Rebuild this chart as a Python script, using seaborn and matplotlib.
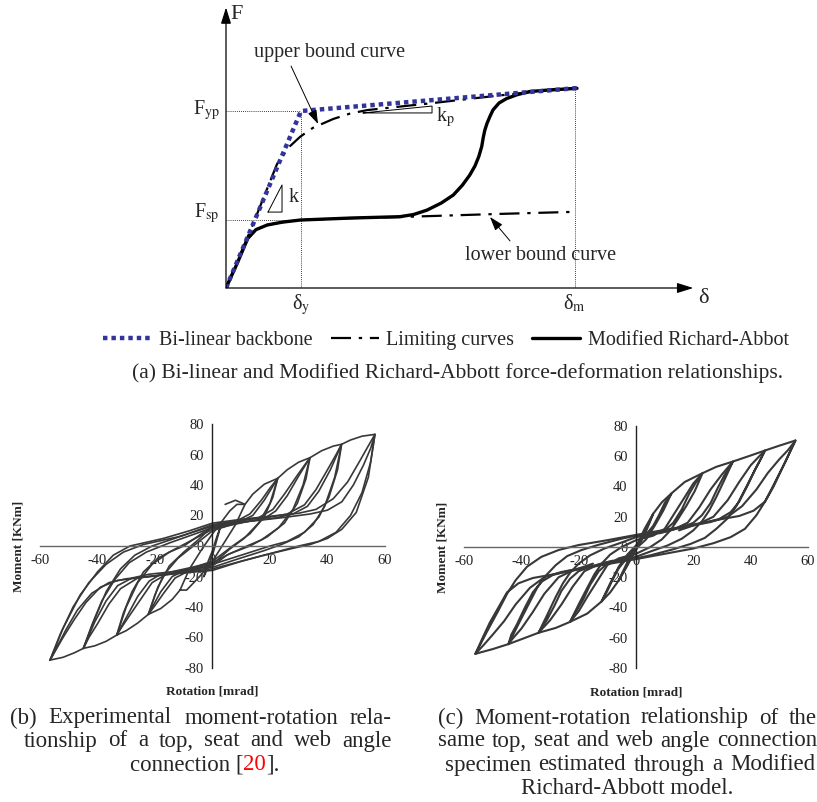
import numpy as np
import matplotlib
matplotlib.use("Agg")
import matplotlib.pyplot as plt
import seaborn as sns

# ---------------- data: panel (a) schematic ----------------
delta_y = 1.0
delta_m = 4.65
F_yp = 1.0
F_sp = 0.384
F_end = 1.13

backbone_d = [0.0, 1.0, 4.69]
backbone_F = [0.0, 1.0, 1.13]

upper_d = [0, 0.35, 0.68, 0.85, 0.99, 1.16, 1.43, 1.65, 1.88, 2.32, 2.76, 3.21, 3.65, 4.09, 4.69]
upper_F = [0, 0.35, 0.70, 0.80, 0.855, 0.905, 0.955, 0.985, 1.005, 1.025, 1.045, 1.067, 1.088, 1.108, 1.13]

lower_d = [0, 0.29, 0.40, 0.55, 0.75, 0.99, 1.65, 2.32, 3.0, 3.6, 4.62]
lower_F = [0, 0.28, 0.33, 0.356, 0.372, 0.384, 0.395, 0.401, 0.41, 0.418, 0.43]

modra_d = [0, 0.15, 0.29, 0.40, 0.55, 0.75, 0.99, 1.65, 2.32, 2.50, 2.68, 2.87, 3.03, 3.15, 3.25,
           3.32, 3.37, 3.41, 3.43, 3.45, 3.48, 3.52, 3.56, 3.64, 3.74, 3.88, 4.05, 4.35, 4.68]
modra_F = [0, 0.14, 0.28, 0.33, 0.356, 0.372, 0.384, 0.395, 0.403, 0.415, 0.44, 0.48, 0.525, 0.58, 0.638,
           0.69, 0.742, 0.80, 0.85, 0.89, 0.93, 0.97, 1.006, 1.045, 1.07, 1.092, 1.11, 1.12, 1.128]

tri_k_d = [0.56, 0.747, 0.747, 0.56]
tri_k_F = [0.429, 0.429, 0.582, 0.429]
tri_kp_d = [1.827, 2.747, 2.747, 1.827]
tri_kp_F = [0.989, 0.989, 1.028, 0.989]

legend_labels = ["Bi-linear backbone", "Limiting curves", "Modified Richard-Abbot"]

# ---------------- data: panel (b) experimental loops (rotation mrad, moment kNm) ----------------
b_loop_57 = [(-56.5, -74.8), (-52, -54), (-46, -32), (-40, -17), (-34.5, -6), (-28.7, 0), (-17, 5), (-8, 10),
             (0, 15), (10, 17.5), (20, 19.5), (30, 21.5), (36, 24), (42, 31), (47, 42), (51, 55), (54, 65),
             (56.5, 73.2), (54.2, 45), (50, 22), (45, 11), (40, 5), (34, 1), (28, -1.5), (18, -6), (8, -11),
             (0, -15), (-10, -17.5), (-20, -19.5), (-30, -21.5), (-36, -24), (-42, -31), (-47, -42), (-51, -55),
             (-54, -66), (-56.5, -74.8)]
b_loop_57b = [(-56.5, -74.8), (-53, -58), (-48.5, -40), (-43, -24), (-37, -12), (-31, -4), (-24, 1), (-12, 6),
              (0, 13), (12, 16), (24, 18.5), (34, 21), (40, 23.5), (45, 29), (49, 40), (52.5, 53), (55, 64),
              (56.5, 73.2), (55, 55), (52, 35), (48, 20), (43, 9), (37, 3), (30, 0), (20, -5), (10, -10),
              (0, -16), (-12, -18), (-24, -20.5), (-33, -22.5), (-39, -27), (-44, -37), (-48, -48), (-52, -60),
              (-56.5, -74.8)]
b_loop_45 = [(-44.9, -67.1), (-41, -48), (-37, -30), (-32, -15), (-27, -6), (-21, 0), (-10, 7), (0, 14),
             (10, 17), (20, 19), (26, 21), (32, 27), (36, 37), (40, 50), (43, 60), (44.9, 66.7), (42.5, 45),
             (39, 26), (35, 14), (30, 6), (24, 1), (18, -3), (8, -9), (0, -14), (-10, -17), (-20, -19.5),
             (-26, -21), (-32, -28), (-36, -38), (-40, -51), (-43, -60), (-44.9, -67.1)]
b_loop_45b = [(-44.9, -67.1), (-42, -52), (-38.5, -36), (-34, -22), (-29, -11), (-23, -4), (-15, 2), (0, 12),
              (12, 16), (22, 18.5), (28, 21), (33, 26), (37, 36), (41, 50), (44.9, 66.7), (43.5, 50),
              (40.5, 32), (37, 19), (32, 9), (26, 3), (20, 0), (10, -6), (0, -12), (-12, -16.5), (-22, -18.5),
              (-28, -21), (-33, -26), (-37, -36), (-41, -50), (-44.9, -67.1)]
b_loop_34 = [(-33.3, -58.4), (-30, -40), (-26, -24), (-21, -12), (-15, -4), (-10, 0), (0, 13), (10, 16.5),
             (16, 18.5), (21, 24), (25, 34), (29, 45), (32, 53), (33.9, 57.9), (31.5, 40), (28, 24), (23, 12),
             (17, 4), (12, 0), (5, -6), (0, -13), (-10, -16.5), (-16, -18.5), (-21, -24), (-25, -35),
             (-29, -46), (-31.5, -53), (-33.3, -58.4)]
b_loop_34b = [(-33.3, -58.4), (-31, -44), (-28, -30), (-24, -17), (-19, -8), (-13, -2), (0, 11), (12, 16),
              (18, 18), (22, 23), (26, 33), (30, 46), (33.9, 57.9), (32.5, 44), (29.5, 28), (25, 15), (19, 6),
              (13, 0), (6, -5), (0, -11), (-12, -16), (-18, -18.5), (-22, -23), (-26, -33), (-30, -47),
              (-33.3, -58.4)]
b_loop_23 = [(-22.3, -44.8), (-19, -27), (-15, -13), (-10, -4), (-5, 4), (0, 13), (8, 16), (13, 21), (17, 30),
             (20, 38), (22.7, 44.4), (20, 28), (16, 15), (11, 5), (6, -2), (0, -12), (-8, -16), (-13, -21),
             (-17, -31), (-20, -39), (-22.3, -44.8)]
b_loop_23b = [(-22.3, -44.8), (-20, -32), (-17, -19), (-12, -8), (-6, 1), (0, 10), (9, 15.5), (14, 20),
              (18, 30), (22.7, 44.4), (21, 32), (18, 19), (13, 8), (7, 0), (0, -10), (-9, -15.5), (-14, -20),
              (-18, -30), (-22.3, -44.8)]
b_loop_11 = [(-11.3, -28.9), (-8, -15), (-4, -3), (0, 8), (4, 18), (6, 23), (8.5, 27.3), (11.3, 27.3),
             (8, 14), (4, 2), (0, -10), (-4, -19), (-7, -25), (-9, -28.9), (-11.3, -28.9)]
b_loop_3 = [(-3, -20), (-1.5, -10), (0, -3), (1.5, 6), (3, 14), (1.5, 4), (0, -6), (-1.5, -14), (-3, -20)]
b_env_pos = [(4.4, 27.3), (8, 30), (11.3, 27.3), (14, 34), (18, 40.5), (22.7, 44.4), (26, 50), (30, 55),
             (33.9, 57.9), (38, 62.5), (42, 65.5), (44.9, 66.7), (48, 69.5), (52, 72), (56.5, 73.2)]
b_env_neg = [(-11.3, -28.9), (-14, -35), (-18, -41), (-22.3, -44.8), (-26, -50.5), (-30, -55.5),
             (-33.3, -58.4), (-37, -62.5), (-41, -65.5), (-44.9, -67.1), (-48, -70), (-52, -73), (-56.5, -74.8)]

# ---------------- data: panel (c) model loops ----------------
c_loop_56 = [(-56, -70.6), (-52, -56), (-48, -42), (-45, -31), (-42, -22), (-38, -13), (-33, -6.5), (-27, -2),
             (-20, 1.3), (-10, 4.5), (0, 8), (15, 13), (30, 18.5), (36, 20.5), (41, 24), (45, 30), (48, 40),
             (50.5, 50), (53, 60), (55.6, 70.4), (52, 56), (48, 41), (45, 30), (42, 21), (38, 12), (33, 6.5),
             (27, 2.5), (20, -1), (10, -4.5), (0, -8), (-15, -13), (-30, -18.5), (-36, -20.5), (-41, -24),
             (-45, -30), (-48, -40), (-51, -50), (-53.5, -60), (-56, -70.6)]
c_loop_45 = [(-44.5, -64.2), (-41, -51), (-37.5, -38), (-34.5, -27), (-31.5, -19), (-28, -12), (-24, -6),
             (-19, -2), (-13, 1.5), (-5, 5.5), (0, 7.5), (15, 12.5), (24, 16), (29, 18.5), (33, 23), (36, 30),
             (39, 41), (41.5, 51), (43.5, 58), (45, 63.8), (41.5, 51), (38, 38), (35, 27), (32, 19), (28, 12),
             (24, 6), (19, 2), (13, -1.5), (5, -5.5), (0, -7.5), (-15, -12.5), (-24, -16), (-29, -18.5),
             (-33, -23), (-36, -30), (-39, -41), (-41.5, -51), (-43.5, -58), (-44.5, -64.2)]
c_loop_34 = [(-34, -56.7), (-31, -45), (-28, -33), (-25.5, -24), (-23, -17), (-20, -11), (-16, -5.5), (-11, -1),
             (-5, 3), (0, 6.5), (10, 10), (16, 13), (20, 16), (23, 21), (26, 29), (28.5, 39), (31, 48),
             (33.8, 56.5), (31, 45), (28, 33), (25.5, 24), (23, 17), (20, 11), (16, 5.5), (11, 1), (5, -3),
             (0, -6.5), (-10, -10), (-16, -13), (-20, -16), (-23, -21), (-26, -29), (-28.5, -39), (-31, -48),
             (-34, -56.7)]
c_loop_23 = [(-23, -49.5), (-20, -38), (-17, -27), (-14.5, -18), (-12, -11), (-9, -5), (-5, 0), (0, 4.5),
             (6, 8), (10, 11), (13, 16), (16, 25), (18.5, 35), (21, 43), (23.2, 48.8), (20.5, 37), (17.5, 27),
             (14.5, 18), (12, 11), (9, 5), (5, 0), (0, -4.5), (-6, -8), (-10, -11), (-13, -16), (-16, -25),
             (-18.5, -35), (-21, -43), (-23, -49.5)]
c_loop_12 = [(-12, -36), (-9, -24), (-6, -13), (-3, -5), (0, 1), (3, 7), (6, 14), (8, 21), (10, 29),
             (12.4, 35.5), (9.5, 24), (6.5, 14), (3.5, 5), (0, -1), (-3, -7), (-6, -14), (-8, -21),
             (-10, -29), (-12, -36)]
c_loop_6 = [(-6, -22), (-3, -10), (0, 0), (3, 10), (6, 22), (3, 8), (0, -2), (-3, -12), (-6, -22)]
# second-cycle transition curves (band -> peak)
c_s_56_pos = [(15, 12.5), (26, 16.5), (32, 20), (37, 27), (42, 38), (46, 49), (50, 58), (53, 64), (55.6, 70.4)]
c_s_56_neg = [(-15, -12.5), (-26, -16.5), (-32, -20), (-37, -27), (-42, -38), (-46, -49), (-50, -58),
              (-53, -64.5), (-56, -70.6)]
c_s_45_pos = [(15, 11), (22, 15.5), (27, 20), (32, 31), (36, 43), (40, 54), (43, 60), (45, 63.8)]
c_s_45_neg = [(-15, -11), (-22, -15.5), (-27, -20), (-32, -31), (-36, -43), (-40, -54), (-43, -60.5),
              (-44.5, -64.2)]
c_s_34_pos = [(8, 9), (13, 11.5), (18, 16), (22, 26), (26, 38), (30, 48), (33.8, 56.5)]
c_s_34_neg = [(-8, -9), (-13, -11.5), (-18, -16), (-22, -26), (-26, -38), (-30, -48.5), (-34, -56.7)]
c_s_23_pos = [(3, 6), (6, 7.5), (10, 12), (13, 21), (17, 33), (20, 42), (23.2, 48.8)]
c_s_23_neg = [(-3, -6), (-6, -7.5), (-10, -12), (-13, -21), (-17, -33), (-20, -42.5), (-23, -49.5)]
c_env_pos = [(0, 0), (3, 12), (6, 22), (9, 29.5), (12.4, 35.5), (17, 43), (23.2, 48.8), (28, 53),
             (33.8, 56.5), (40, 60.5), (45, 63.8), (50, 67), (55.6, 70.4)]
c_env_neg = [(0, 0), (-3, -12), (-6, -22), (-9, -30), (-12, -36), (-17, -44), (-23, -49.5), (-28, -53.5),
             (-34, -56.7), (-40, -61), (-44.5, -64.2), (-50, -67.5), (-56, -70.6)]

rot_ticks = [-60, -40, -20, 0, 20, 40, 60]
mom_ticks = [-80, -60, -40, -20, 0, 20, 40, 60, 80]

# ---------------- style ----------------
sns.set_theme(style="white")
plt.rcParams["font.family"] = ["Liberation Serif", "DejaVu Serif"]
plt.rcParams["mathtext.fontset"] = "stix"

W, H = 817, 802
fig = plt.figure(figsize=(W / 100, H / 100), dpi=100)


def rect(left, top, right, bottom):
    return [left / W, 1 - bottom / H, (right - left) / W, (bottom - top) / H]


BLUE = "#33339c"
FS = 14.5

# ---------------- panel (a) ----------------
axa = fig.add_axes(rect(226, 3, 706, 288))
axa.set_xlim(0, 6.4)
axa.set_ylim(0, 285 / 177)
axa.axis("off")

axa.plot([0, delta_y], [F_yp, F_yp], color="black", lw=0.6, ls=(0, (1, 1.5)))
axa.plot([delta_y, delta_y], [0, F_yp], color="black", lw=0.6, ls=(0, (1, 1.5)))
axa.plot([0, delta_y], [F_sp, F_sp], color="black", lw=0.6, ls=(0, (1, 1.5)))
axa.plot([delta_m, delta_m], [0, F_end], color="black", lw=0.6, ls=(0, (1, 1.5)))

l_lim = sns.lineplot(x=upper_d, y=upper_F, sort=False, estimator=None, color="black", lw=1.6,
                     linestyle=(0, (9, 3.5, 1.5, 3.5)), ax=axa).lines[-1]
sns.lineplot(x=lower_d, y=lower_F, sort=False, estimator=None, color="black", lw=1.6,
             linestyle=(0, (9, 3.5, 1.5, 3.5)), ax=axa)
l_ra = sns.lineplot(x=modra_d, y=modra_F, sort=False, estimator=None, color="black", lw=2.4,
                    ax=axa).lines[-1]
l_bb = sns.lineplot(x=backbone_d, y=backbone_F, sort=False, estimator=None, color=BLUE, lw=3.2,
                    linestyle=(0, (1, 0.9)), ax=axa).lines[-1]
l_bb.set_dash_capstyle("butt")

axa.plot(tri_k_d, tri_k_F, color="black", lw=0.7)
axa.plot(tri_kp_d, tri_kp_F, color="black", lw=0.7)
axa.text(0.83, 0.51, "k", fontsize=FS, ha="left", va="center")
axa.text(2.8, 0.965, r"k$_{\mathrm{p}}$", fontsize=FS, ha="left", va="center")

arrow_kw = dict(arrowstyle="-|>,head_length=0.7,head_width=0.22", color="black", lw=0.9,
                shrinkA=0, shrinkB=0, mutation_scale=14)
axa.annotate("", xy=(6.23, 0), xytext=(0, 0), arrowprops=arrow_kw, annotation_clip=False)
axa.annotate("", xy=(0, 1.585), xytext=(0, 0), arrowprops=arrow_kw, annotation_clip=False)
axa.text(0.135, 1.545, "F", fontsize=16, ha="center", va="center")
axa.text(6.37, -0.06, "δ", fontsize=16, ha="center", va="center", clip_on=False)

axa.text(-0.08, 1.006, r"F$_{\mathrm{yp}}$", fontsize=FS, ha="right", va="center")
axa.text(-0.08, 0.424, r"F$_{\mathrm{sp}}$", fontsize=FS, ha="right", va="center")
axa.text(delta_y, -0.025, r"δ$_{\mathrm{y}}$", fontsize=FS, ha="center", va="top", clip_on=False)
axa.text(delta_m, -0.025, r"δ$_{\mathrm{m}}$", fontsize=FS, ha="center", va="top", clip_on=False)

ann_kw = dict(arrowstyle="-|>,head_length=0.6,head_width=0.2", color="black", lw=0.7,
              shrinkA=0, shrinkB=0, mutation_scale=14)
axa.text(1.387, 1.333, "upper bound curve", fontsize=FS, ha="center", va="center")
axa.annotate("", xy=(1.227, 0.927), xytext=(0.867, 1.254), arrowprops=ann_kw)
axa.text(4.2, 0.186, "lower bound curve", fontsize=FS, ha="center", va="center")
axa.annotate("", xy=(3.52, 0.401), xytext=(3.787, 0.266), arrowprops=ann_kw)

fig.legend(handles=[l_bb, l_lim, l_ra], labels=legend_labels, ncol=3, loc="center",
           bbox_to_anchor=(446 / W, 1 - 340 / H), frameon=False, fontsize=FS,
           handlelength=2.4, handletextpad=0.35, columnspacing=0.9, borderpad=0, borderaxespad=0)

# ---------------- panels (b) and (c) ----------------
LINE = "#383838"


def hyst_axes(r, loops, lw, lab_x, lab_y):
    ax = fig.add_axes(r)
    ax.set_xlim(-60, 60)
    ax.set_ylim(-80, 80)
    ax.set_facecolor("none")
    for name in ["top", "right"]:
        ax.spines[name].set_visible(False)
    ax.spines["left"].set_position(("data", 0))
    ax.spines["bottom"].set_position(("data", 0))
    ax.spines["left"].set_color("#222222")
    ax.spines["bottom"].set_color("#666666")
    ax.spines["left"].set_linewidth(1.0)
    ax.spines["bottom"].set_linewidth(1.0)
    ax.set_xticks(rot_ticks)
    ax.set_yticks(mom_ticks)
    ax.set_xticklabels([str(t) for t in rot_ticks])
    ax.set_yticklabels([str(t) for t in mom_ticks])
    ax.tick_params(axis="both", direction="out", length=4, width=0.8, labelsize=10.5, pad=2,
                   colors="#222222")
    for lp in loops:
        arr = np.array(lp)
        sns.lineplot(x=arr[:, 0], y=arr[:, 1], sort=False, estimator=None, color=LINE, lw=lw, ax=ax)
    ax.set_xlabel("Rotation [mrad]", fontsize=9.5, fontweight="bold")
    ax.set_ylabel("Moment [KNm]", fontsize=9.5, fontweight="bold")
    ax.xaxis.set_label_coords(0.5, lab_x)
    ax.yaxis.set_label_coords(lab_y, 0.5)
    return ax


axb = hyst_axes(rect(40, 424, 385, 668),
                [b_loop_57, b_loop_57b, b_loop_45, b_loop_45b, b_loop_34, b_loop_34b, b_loop_23,
                 b_loop_23b, b_loop_11, b_loop_3, b_env_pos, b_env_neg],
                1.2, -0.07, -0.046)
axc = hyst_axes(rect(464, 426, 808, 668),
                [c_loop_56, c_loop_45, c_loop_34, c_loop_23, c_loop_12, c_loop_6, c_env_pos, c_env_neg,
                 c_s_56_pos, c_s_56_neg, c_s_45_pos, c_s_45_neg, c_s_34_pos, c_s_34_neg, c_s_23_pos,
                 c_s_23_neg],
                1.5, -0.078, -0.0465)

# ---------------- captions ----------------
tax = fig.add_axes([0, 0, 1, 1])
tax.set_xlim(0, W)
tax.set_ylim(H, 0)
tax.axis("off")
renderer = fig.canvas.get_renderer()
FSA = 15.5
FSC = 16.5


def justified(line, x0, x1, y, fs):
    words = line.split(" ")
    texts = [tax.text(0, y, w, fontsize=fs, ha="left", va="center") for w in words]
    widths = [t.get_window_extent(renderer).width for t in texts]
    gap = (x1 - x0 - sum(widths)) / (len(words) - 1)
    x = x0
    for t, wd in zip(texts, widths):
        t.set_x(x)
        x += wd + gap


tax.text(458, 373, "(a) Bi-linear and Modified Richard-Abbott force-deformation relationships.",
         fontsize=FSA, ha="center", va="center")
justified("(b) Experimental moment-rotation rela-", 10, 392, 718, FSC)
justified("tionship of a top, seat and web angle", 24, 392, 741, FSC)
t1 = tax.text(130, 765, "connection [", fontsize=FSC, ha="left", va="center")
t2 = tax.annotate("20", xy=(1, 0), xycoords=t1, ha="left", va="bottom", fontsize=FSC, color="red")
tax.annotate("].", xy=(1, 0), xycoords=t2, ha="left", va="bottom", fontsize=FSC)
justified("(c) Moment-rotation relationship of the", 438, 817, 718, FSC)
justified("same top, seat and web angle connection", 438, 817, 741, FSC)
justified("specimen estimated through a Modified", 445, 815, 765, FSC)
tax.text(627, 788, "Richard-Abbott model.", fontsize=FSC, ha="center", va="center")

fig.savefig("out.png", dpi=100)
